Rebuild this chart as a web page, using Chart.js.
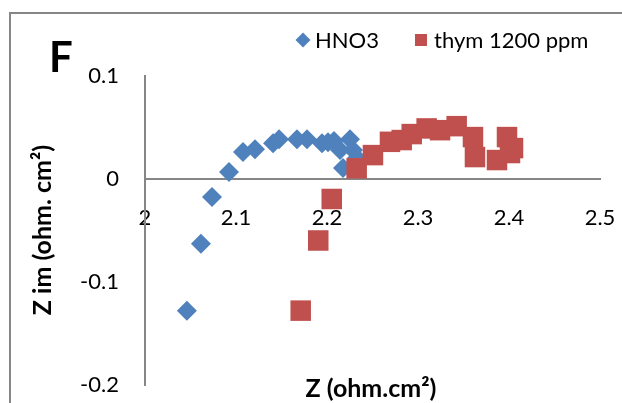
<!DOCTYPE html>
<html>
<head>
<meta charset="utf-8">
<script src="https://cdn.jsdelivr.net/npm/chart.js@4/dist/chart.umd.min.js"></script>
<style>
  html, body { margin: 0; padding: 0; background: #fff; }
  #wrap { width: 622px; height: 403px; position: relative; }
</style>
</head>
<body>
<div id="wrap"><canvas id="nyquistChart"></canvas></div>
<script>
// Nyquist data: real part (Z) and imaginary part (Z im), ohm.cm2
const hno3Z = [2.046, 2.0615, 2.0736, 2.0923, 2.1077, 2.1209, 2.1407, 2.1473, 2.167, 2.178,
    2.1945, 2.2011, 2.2077, 2.2143, 2.2253, 2.2286, 2.2176, 2.233];
const hno3Zim = [-0.1278, -0.0629, -0.0174, 0.0068, 0.0261, 0.029, 0.0348, 0.0387, 0.0387, 0.0387,
    0.0348, 0.0358, 0.0368, 0.0281, 0.0387, 0.0281, 0.0106, 0.0203];

const thymZ = [2.1711, 2.1904, 2.2052, 2.2326, 2.2505, 2.2692, 2.2821, 2.2931, 2.3095, 2.3242,
    2.3425, 2.3604, 2.3626, 2.3868, 2.3978, 2.4044, 2.4011];
const thymZim = [-0.1278, -0.0597, -0.0194, 0.0104, 0.0232, 0.0361, 0.0378, 0.0436, 0.0491, 0.0474,
    0.0513, 0.0407, 0.0213, 0.0184, 0.0407, 0.03, 0.0252];

const seriesNames = ['HNO3', 'thym 1200 ppm'];
const xTicks = [2, 2.1, 2.2, 2.3, 2.4, 2.5];
const yTicks = [-0.2, -0.1, 0, 0.1];

const blue = '#4F81BD';
const red = '#C0504D';
const axisGrey = '#868686';
const fontFamily = 'Lato, "Open Sans", sans-serif';

function toPoints(xs, ys) {
    return xs.map((x, i) => ({ x: x, y: ys[i] }));
}

function formatTick(value) {
    return String(Math.round(value * 10) / 10);
}

// Frame, panel letter, axis titles and legend
const decorations = {
    id: 'decorations',
    beforeDraw(chart) {
        const ctx = chart.ctx;
        ctx.save();
        ctx.strokeStyle = axisGrey;
        ctx.lineWidth = 2;
        ctx.strokeRect(10, 13, 700, 500);
        ctx.restore();
    },
    afterDraw(chart) {
        const ctx = chart.ctx;
        ctx.save();
        ctx.fillStyle = '#000';

        ctx.font = 'bold 42px ' + fontFamily;
        ctx.textBaseline = 'alphabetic';
        ctx.textAlign = 'left';
        ctx.fillText('F', 49, 72);

        ctx.font = 'bold 25px ' + fontFamily;
        ctx.textAlign = 'center';
        ctx.textBaseline = 'middle';
        ctx.fillText('Z (ohm.cm²)', 371, 389);

        ctx.save();
        ctx.translate(43, 230);
        ctx.rotate(-Math.PI / 2);
        ctx.fillText('Z im (ohm. cm²)', 0, 0);
        ctx.restore();

        // legend
        ctx.font = '22px ' + fontFamily;
        ctx.textAlign = 'left';
        ctx.fillStyle = blue;
        ctx.beginPath();
        ctx.moveTo(303, 32.5);
        ctx.lineTo(310.5, 40);
        ctx.lineTo(303, 47.5);
        ctx.lineTo(295.5, 40);
        ctx.closePath();
        ctx.fill();
        ctx.fillStyle = red;
        ctx.fillRect(415, 34, 12, 12);
        ctx.fillStyle = '#000';
        ctx.fillText(seriesNames[0], 315, 41);
        ctx.fillText(seriesNames[1], 434, 41);
        ctx.restore();
    }
};

const config = {
    type: 'scatter',
    data: {
        datasets: [{
            label: seriesNames[0],
            data: toPoints(hno3Z, hno3Zim),
            pointStyle: 'rectRot',
            pointRadius: 10,
            backgroundColor: blue,
            borderColor: blue,
            borderWidth: 0,
            order: 1
        }, {
            label: seriesNames[1],
            data: toPoints(thymZ, thymZim),
            pointStyle: 'rect',
            pointRadius: 14.5,
            backgroundColor: red,
            borderColor: red,
            borderWidth: 0,
            order: 0
        }]
    },
    options: {
        responsive: false,
        animation: false,
        events: [],
        layout: { padding: { top: 76, right: 22, bottom: 18, left: 0 } },
        plugins: {
            legend: { display: false },
            tooltip: { enabled: false }
        },
        scales: {
            x: {
                type: 'linear',
                position: { y: 0 },
                min: xTicks[0],
                max: xTicks[xTicks.length - 1],
                afterBuildTicks: scale => { scale.ticks = xTicks.map(v => ({ value: v })); },
                // the axis sits at y = 0, so it takes no room from the plot area
                afterFit: scale => {
                    scale.height = 0;
                    scale.paddingLeft = 0;
                    scale.paddingRight = 0;
                },
                grid: { display: false, drawTicks: false },
                border: { display: true, color: axisGrey, width: 2 },
                ticks: {
                    padding: 26,
                    color: '#000',
                    font: { family: fontFamily, size: 22 },
                    callback: formatTick
                }
            },
            y: {
                type: 'linear',
                position: 'left',
                min: yTicks[0],
                max: yTicks[yTicks.length - 1],
                afterBuildTicks: scale => { scale.ticks = yTicks.map(v => ({ value: v })); },
                afterFit: scale => {
                    scale.width = 145;
                    scale.paddingTop = 0;
                    scale.paddingBottom = 0;
                },
                grid: { display: false, drawTicks: false },
                border: { display: true, color: axisGrey, width: 2 },
                ticks: {
                    padding: 26,
                    color: '#000',
                    font: { family: fontFamily, size: 22 },
                    callback: formatTick
                }
            }
        }
    },
    plugins: [decorations]
};

const canvas = document.getElementById('nyquistChart');
canvas.width = 622;
canvas.height = 403;
new Chart(canvas.getContext('2d'), config);
</script>
</body>
</html>
